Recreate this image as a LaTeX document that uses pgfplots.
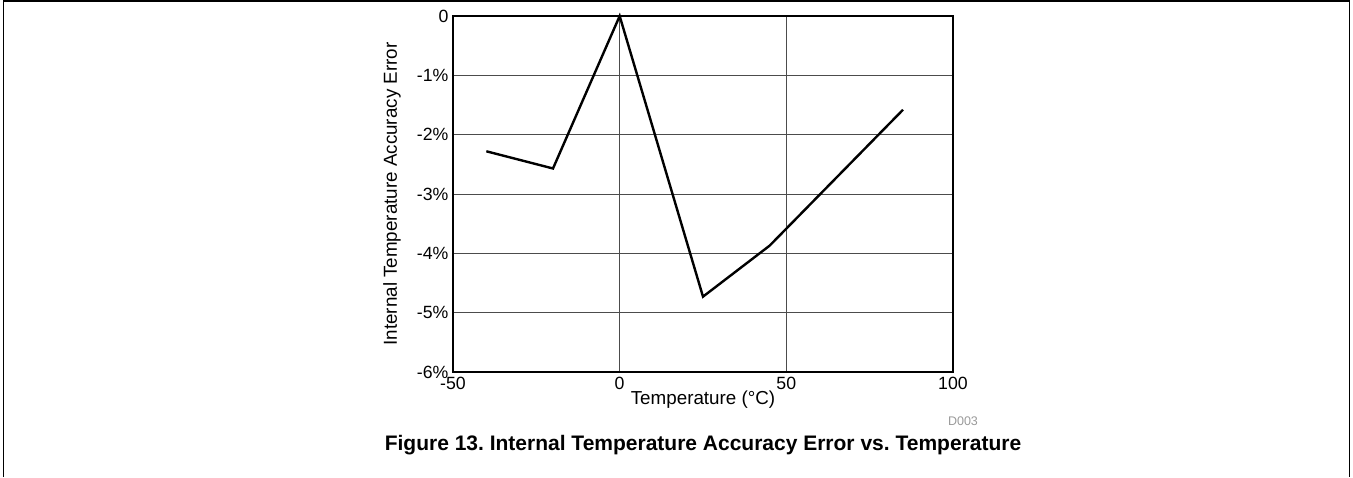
\documentclass[border=0pt]{standalone}
\usepackage{fontspec}
\setmainfont{Liberation Sans}
\usepackage{pgfplots}
\pgfplotsset{compat=1.18}
\pgfplotstableread{
x y
-40 -2.28
-20 -2.57
0 0.0
25 -4.73
45 -3.87
85 -1.58
}\datatable
\begin{document}
\frenchspacing
\begin{tikzpicture}[x=1pt,y=1pt]
\useasboundingbox (0,0) rectangle (1353,477);
\draw[line width=1.6pt] (3.5,0) -- (3.5,476) -- (1349.5,476) -- (1349.5,0);
\begin{axis}[
  at={(453pt,105pt)}, anchor=south west,
  width=500pt, height=356pt, scale only axis,
  xmin=-50, xmax=100, ymin=-6, ymax=0,
  xtick={-50,0,50,100},
  xticklabels={-50,0,50,100},
  ytick={-6,-5,-4,-3,-2,-1,0},
  yticklabels={-6\%,-5\%,-4\%,-3\%,-2\%,-1\%,0},
  major tick length=0pt,
  axis line style={line width=2.6pt},
  grid=major,
  major grid style={line width=1pt, color=black!70},
  tick label style={font=\fontsize{17.7}{20}\selectfont},
  xticklabel style={yshift=-2pt},
  yticklabel style={xshift=-1pt},
  xlabel={Temperature (°C)},
  ylabel={Internal Temperature Accuracy Error},
  label style={font=\fontsize{18.8}{21}\selectfont},
  xlabel style={at={(axis description cs:0.5,-0.078)}, anchor=center},
  ylabel style={at={(axis description cs:-0.122,0.5)}, anchor=center},
  clip=false,
]
\addplot[black, line width=2.4pt, line join=miter] table[x=x,y=y] {\datatable};
\end{axis}
\node[text=black!40, font=\fontsize{12.5}{14}\selectfont] at (963,56) {D003};
\node[font=\bfseries\fontsize{21}{24}\selectfont] at (703,32) {Figure 13. Internal Temperature Accuracy Error vs. Temperature};
\end{tikzpicture}
\end{document}
